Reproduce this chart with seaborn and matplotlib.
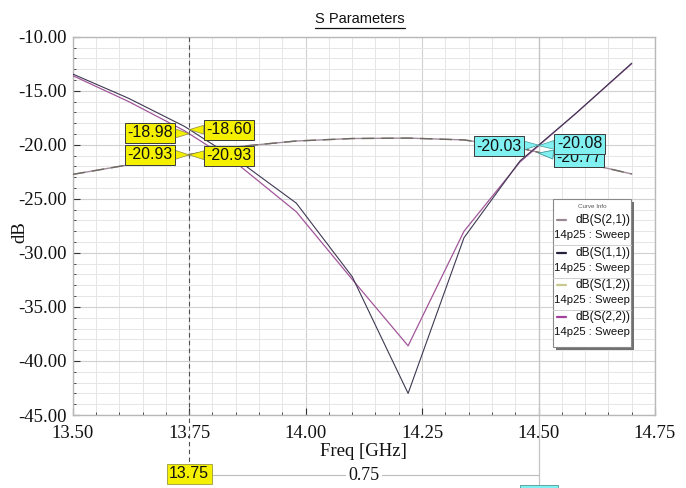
import numpy as np
import pandas as pd
import matplotlib
matplotlib.use("Agg")
import matplotlib.pyplot as plt
import seaborn as sns
from matplotlib import font_manager
from matplotlib.ticker import MultipleLocator, FormatStrFormatter
from matplotlib.lines import Line2D
from matplotlib.patches import Rectangle
from matplotlib.transforms import blended_transform_factory, IdentityTransform

# ---- sweep data (GHz / dB) ----
freq_ghz = [13.50, 13.62, 13.74, 13.86, 13.98, 14.10, 14.22, 14.34, 14.46, 14.58, 14.70]
s11_db = [-13.45, -15.70, -18.30, -21.60, -25.40, -32.20, -43.00, -28.60, -21.50, -17.10, -12.45]
s22_db = [-13.60, -16.00, -18.70, -22.00, -26.20, -32.45, -38.60, -28.00, -21.60, -17.10, -12.50]
s21_db = [-22.74, -21.85, -20.97, -20.15, -19.65, -19.42, -19.38, -19.55, -20.30, -21.50, -22.70]
s12_db = [-22.74, -21.85, -20.97, -20.15, -19.65, -19.42, -19.38, -19.55, -20.30, -21.50, -22.70]

trace_names = ["dB(S(2,1))", "dB(S(1,1))", "dB(S(1,2))", "dB(S(2,2))"]
sweep_name = "14p25 : Sweep"
legend_title = "Curve Info"

# ---- marker readouts ----
marker_freqs = [13.75, 14.50]
m1_s11, m1_s22, m1_s21, m1_s12 = -18.60, -18.98, -20.93, -20.93
m2_s11, m2_s22, m2_s21, m2_s12 = -20.03, -20.08, -20.77, -20.77

x_ticks = [13.50, 13.75, 14.00, 14.25, 14.50, 14.75]
y_ticks = [-45, -40, -35, -30, -25, -20, -15, -10]

# ---- style ----
sns.set_theme(style="white")
names = {f.name for f in font_manager.fontManager.ttflist}
SANS = "Liberation Sans"
SERIF = "Liberation Serif"
plt.rcParams["axes.unicode_minus"] = False
plt.rcParams["font.family"] = [SANS, "DejaVu Sans"]

W, H = 686, 488
fig = plt.figure(figsize=(W / 100, H / 100), dpi=100)
fig.patch.set_facecolor("white")

L, R, T, B = 72.7, 655.0, 36.7, 415.0
ax = fig.add_axes([L / W, 1 - B / H, (R - L) / W, (B - T) / H])
ax.set_facecolor("white")


def ay(py):
    return (B - py) / (B - T)


col_s21 = "#a08c9a"
col_s11 = "#3e3852"
col_s12 = "#6e6a62"
col_s22 = "#a2569a"
leg_cols = ["#9a8892", "#25203c", "#c8c890", "#a0409a"]

sns.lineplot(x=freq_ghz, y=s21_db, ax=ax, color=col_s21, lw=1.0, zorder=3)
sns.lineplot(x=freq_ghz, y=s12_db, ax=ax, color=col_s12, lw=1.0,
             linestyle=(0, (9, 5)), zorder=3)
sns.lineplot(x=freq_ghz, y=s22_db, ax=ax, color=col_s22, lw=0.9, zorder=3)
sns.lineplot(x=freq_ghz, y=s11_db, ax=ax, color=col_s11, lw=0.8, zorder=3)

ax.set_xlim(13.5, 14.75)
ax.set_ylim(-45, -10)
ax.set_xticks(x_ticks)
ax.set_yticks(y_ticks)
ax.xaxis.set_minor_locator(MultipleLocator(0.05))
ax.yaxis.set_minor_locator(MultipleLocator(1))
ax.xaxis.set_major_formatter(FormatStrFormatter("%.2f"))
ax.yaxis.set_major_formatter(FormatStrFormatter("%.2f"))
ax.grid(which="minor", color="#e6e6e6", lw=0.7, zorder=0)
ax.grid(which="major", color="#d0d0d0", lw=0.8, zorder=0)
ax.set_axisbelow(True)
ax.tick_params(which="both", direction="in", color="#333333",
               bottom=True, left=True, top=False, right=False)
ax.tick_params(which="major", length=5, width=0.8, labelsize=13.5)
ax.tick_params(which="minor", length=2.5, width=0.6)
ax.tick_params(axis="x", pad=7)
ax.tick_params(axis="y", pad=4)
for lab in ax.get_xticklabels() + ax.get_yticklabels():
    lab.set_family(SERIF)
    lab.set_color("#111111")
for s in ax.spines.values():
    s.set_color("#b8b8b8")
    s.set_linewidth(1.0)

ax.set_xlabel("")
ax.set_ylabel("")
fig.text((L + R) / 2 / W, 1 - 452 / H, "Freq [GHz]", family=SERIF, fontsize=13.5,
         ha="center", va="center", color="#111111")
fig.text(20 / W, 1 - 232 / H, "dB", family=SERIF, fontsize=13.5, rotation=90,
         ha="center", va="center", color="#111111")
title = fig.text(360 / W, 1 - 19 / H, "S Parameters", family=SANS, fontsize=10.5,
                 ha="center", va="center", color="#111111")

# ---- marker lines ----
trans = blended_transform_factory(ax.transData, ax.transAxes)
ax.plot([marker_freqs[0]] * 2, [1.0, ay(463)], transform=trans, clip_on=False,
        color="#505050", lw=0.8, ls=(0, (4, 3)), zorder=4)
ax.plot([marker_freqs[1]] * 2, [1.0, ay(490)], transform=trans, clip_on=False,
        color="#c4c4c4", lw=0.9, zorder=2)

YEL = "#f4f000"
CYAN = "#80f0f0"


def tag(x, y, text, dx, dy, color, z=6):
    ax.annotate(text, xy=(x, y), xytext=(dx, dy), textcoords="offset pixels",
                ha="center", va="center", fontsize=11.5, family=SANS, color="#111111",
                bbox=dict(boxstyle="square,pad=0.15", fc=color, ec="#3a3a3a", lw=0.7),
                arrowprops=dict(arrowstyle="wedge,tail_width=0.55,shrink_factor=0.5",
                                fc=color, ec="#8a8a40" if color != CYAN else "#4a9a9a",
                                lw=0.5, shrinkA=0, shrinkB=0),
                zorder=z)


tag(marker_freqs[0], m1_s22, f"{m1_s22:.2f}", -39, 1, YEL)
tag(marker_freqs[0], m1_s11, f"{m1_s11:.2f}", 40, 0, YEL)
tag(marker_freqs[0], m1_s21, f"{m1_s21:.2f}", -39, 0, YEL)
tag(marker_freqs[0], m1_s12, f"{m1_s12:.2f}", 40, -1, YEL)
tag(marker_freqs[1], m2_s12, f"{m2_s12:.2f}", 40, -4, CYAN, z=5)
tag(marker_freqs[1], m2_s21, f"{m2_s21:.2f}", 40, -4, CYAN, z=5)
tag(marker_freqs[1], m2_s11, f"{m2_s11:.2f}", -40, -1, CYAN)
tag(marker_freqs[1], m2_s22, f"{m2_s22:.2f}", 41, 2, CYAN, z=7)

# ---- delta readout below the axis ----
ax.plot(marker_freqs, [ay(475)] * 2, transform=trans, clip_on=False,
        color="#bdbdbd", lw=0.8, zorder=2)
ax.text(np.mean(marker_freqs), ay(476), f"{marker_freqs[1] - marker_freqs[0]:.2f}",
        transform=trans, ha="center", va="center", family=SERIF, fontsize=13,
        color="#111111", bbox=dict(boxstyle="square,pad=0.15", fc="white", ec="none"),
        zorder=3)
ax.text(marker_freqs[0], ay(474), f"{marker_freqs[0]:.2f}", transform=trans,
        ha="center", va="center", family=SANS, fontsize=11.5, color="#111111",
        bbox=dict(boxstyle="square,pad=0.15", fc=YEL, ec="#9a9a40", lw=0.6), zorder=5)


def fx(px):
    return px / W


def fy(py):
    return 1 - py / H


# second marker's frequency tag sits just below the bottom edge
fig.add_artist(Rectangle((fx(520), fy(500)), fx(38), 15 / H, transform=fig.transFigure,
                         fc=CYAN, ec="#4a9a9a", lw=0.6, zorder=5))

# ---- curve info box ----
bx0, bx1, by0, by1 = 553, 631, 199, 347
fig.add_artist(Rectangle((fx(bx0 + 3), fy(by1 + 3)), fx(bx1 - bx0), (by1 - by0) / H,
                         transform=fig.transFigure, fc="#707070", ec="none", zorder=8))
fig.add_artist(Rectangle((fx(bx0), fy(by1)), fx(bx1 - bx0), (by1 - by0) / H,
                         transform=fig.transFigure, fc="white", ec="#8a8a8a", lw=0.8,
                         zorder=9))
fig.text(fx((bx0 + bx1) / 2), fy(206), legend_title, family=SANS, fontsize=4.5,
         ha="center", va="center", color="#555555", zorder=10)
row_top = [220, 253, 285, 317]
for i, (name, c) in enumerate(zip(trace_names, leg_cols)):
    yy = row_top[i]
    fig.add_artist(Line2D([fx(557), fx(566)], [fy(yy), fy(yy)], transform=fig.transFigure,
                          color=c, lw=1.6, zorder=10))
    fig.text(fx(630), fy(yy), name, family=SANS, fontsize=8.6, ha="right",
             va="center", color="#111111", zorder=10)
    fig.text(fx(630), fy(yy + 15), sweep_name, family=SANS, fontsize=8.2, ha="right",
             va="center", color="#111111", zorder=10)
    if i < 3:
        fig.add_artist(Line2D([fx(bx0), fx(bx1)], [fy(yy + 25)] * 2,
                              transform=fig.transFigure, color="#d0d0d0", lw=0.7,
                              zorder=10))

# underline the title
fig.canvas.draw()
bb = title.get_window_extent()
fig.add_artist(Line2D([bb.x0, bb.x1], [bb.y0 - 1.5, bb.y0 - 1.5],
                      transform=IdentityTransform(), color="#111111", lw=0.9))

fig.savefig("out.png", dpi=100, facecolor="white")
